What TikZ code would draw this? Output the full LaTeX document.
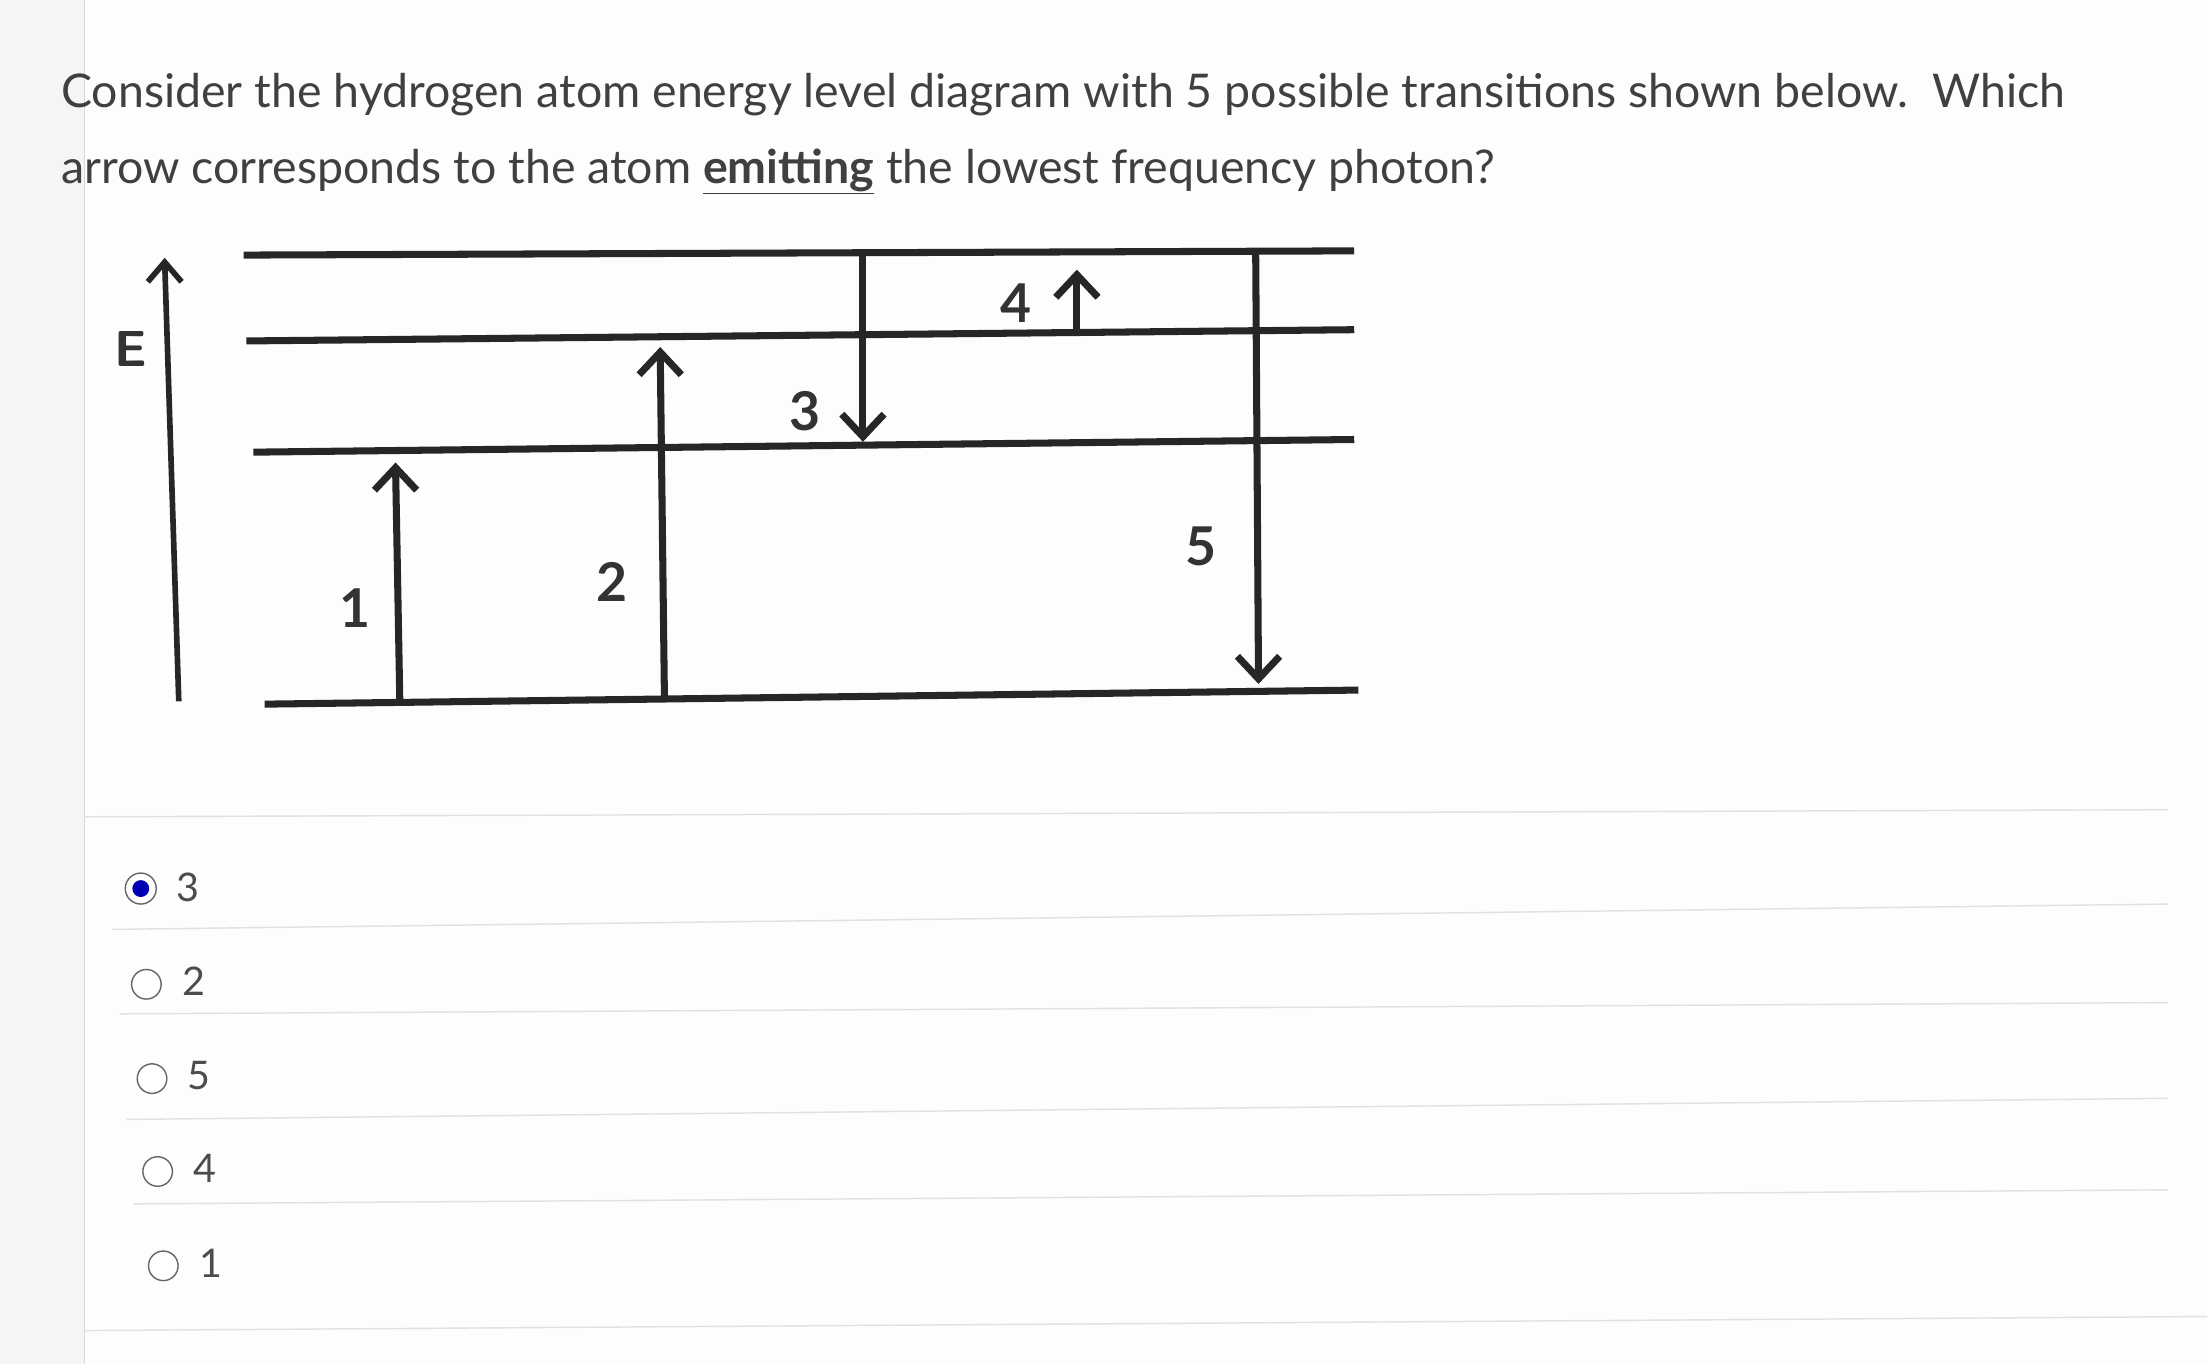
\documentclass[tikz,border=0pt]{standalone}
\usepackage{fontspec}
\setmainfont{Lato}
\begin{document}
\begin{tikzpicture}[x=1pt,y=-1pt,
 lvl/.style={line width=5pt,black!85},
 tr/.style={line width=5pt,black!85},
 hd/.style={line width=5pt,black!85,line join=miter,line cap=butt},
 lab/.style={font=\fontsize{38}{38}\selectfont\bfseries,text=black!80},
 opt/.style={font=\fontsize{28}{28}\selectfont,text=black!70,anchor=west},
 sep/.style={black!12,line width=1pt}]
\fill[black!4] (0,0) rectangle (1568,969);
\fill[white!70!black!3] (60,0) rectangle (1568,969);
\draw[black!15] (60,0)--(60,969);
\node[anchor=north west,align=left,font=\fontsize{33}{54}\selectfont,text=black!75] (q) at (40,48)
 {Consider the hydrogen atom energy level diagram with 5 possible transitions shown below.\ \ Which\\
 arrow corresponds to the atom \underline{\textbf{emitting}} the lowest frequency photon?};
% levels
\coordinate (l4a) at (173,181); \coordinate (l4b) at (962,178);
\coordinate (l3a) at (175,242); \coordinate (l3b) at (962,234);
\coordinate (l2a) at (180,321); \coordinate (l2b) at (962,312);
\coordinate (l1a) at (188,500); \coordinate (l1b) at (965,490);
\draw[lvl] (l4a)--(l4b); \draw[lvl] (l3a)--(l3b); \draw[lvl] (l2a)--(l2b); \draw[lvl] (l1a)--(l1b);
% E axis
\coordinate (e0) at (127,498); \coordinate (e1) at (117,186);
\draw[tr,line width=4pt] (e0)--(e1);
\draw[hd,line width=4pt] (e1) ++(-12,14) -- (e1) -- ++(12,14);
\node[lab,font=\fontsize{36}{36}\selectfont\sffamily\bfseries] (E) at (93,248) {E};
% transitions
\coordinate (a1s) at (284,497); \coordinate (a1e) at (281,332);
\draw[tr] (a1s)--(a1e); \draw[hd] (a1e) ++(-15,16) -- (a1e) -- ++(15,16);
\node[lab] (n1) at (252,432) {1};
\coordinate (a2s) at (472,496); \coordinate (a2e) at (469,250);
\draw[tr] (a2s)--(a2e); \draw[hd] (a2e) ++(-15,16) -- (a2e) -- ++(15,16);
\node[lab] (n2) at (435,413) {2};
\coordinate (a3s) at (613,180); \coordinate (a3e) at (613,310);
\draw[tr] (a3s)--(a3e); \draw[hd] (a3e) ++(-15,-16) -- (a3e) -- ++(15,-16);
\node[lab] (n3) at (572,292) {3};
\coordinate (a4s) at (765,234); \coordinate (a4e) at (765,195);
\draw[tr] (a4s)--(a4e); \draw[hd] (a4e) ++(-15,16) -- (a4e) -- ++(15,16);
\node[lab] (n4) at (722,215) {4};
\coordinate (a5s) at (892,179); \coordinate (a5e) at (894,482);
\draw[tr] (a5s)--(a5e); \draw[hd] (a5e) ++(-15,-16) -- (a5e) -- ++(15,-16);
\node[lab] (n5) at (853,388) {5};
% options
\draw[sep] (60,580)--(1540,575);
\draw[sep] (80,660)--(1540,642);
\draw[sep] (85,720)--(1540,712);
\draw[sep] (90,795)--(1540,780);
\draw[sep] (95,855)--(1540,845);
\draw[sep] (60,945)--(1568,935);
\node[circle,draw=black!60,line width=1pt,fill=white,minimum size=22pt,inner sep=0pt] (r1) at (100,631) {};
\node[circle,fill=blue!70!black,minimum size=12pt,inner sep=0pt] (r1d) at (r1) {};
\node[opt] (o1) at (122,630) {3};
\node[circle,draw=black!60,line width=1pt,fill=white,minimum size=21pt,inner sep=0pt] (r2) at (104,699) {};
\node[opt] (o2) at (126,697) {2};
\node[circle,draw=black!60,line width=1pt,fill=white,minimum size=21pt,inner sep=0pt] (r3) at (108,766) {};
\node[opt] (o3) at (130,764) {5};
\node[circle,draw=black!60,line width=1pt,fill=white,minimum size=21pt,inner sep=0pt] (r4) at (112,832) {};
\node[opt] (o4) at (134,830) {4};
\node[circle,draw=black!60,line width=1pt,fill=white,minimum size=21pt,inner sep=0pt] (r5) at (116,899) {};
\node[opt] (o5) at (138,897) {1};
\end{tikzpicture}
\end{document}
